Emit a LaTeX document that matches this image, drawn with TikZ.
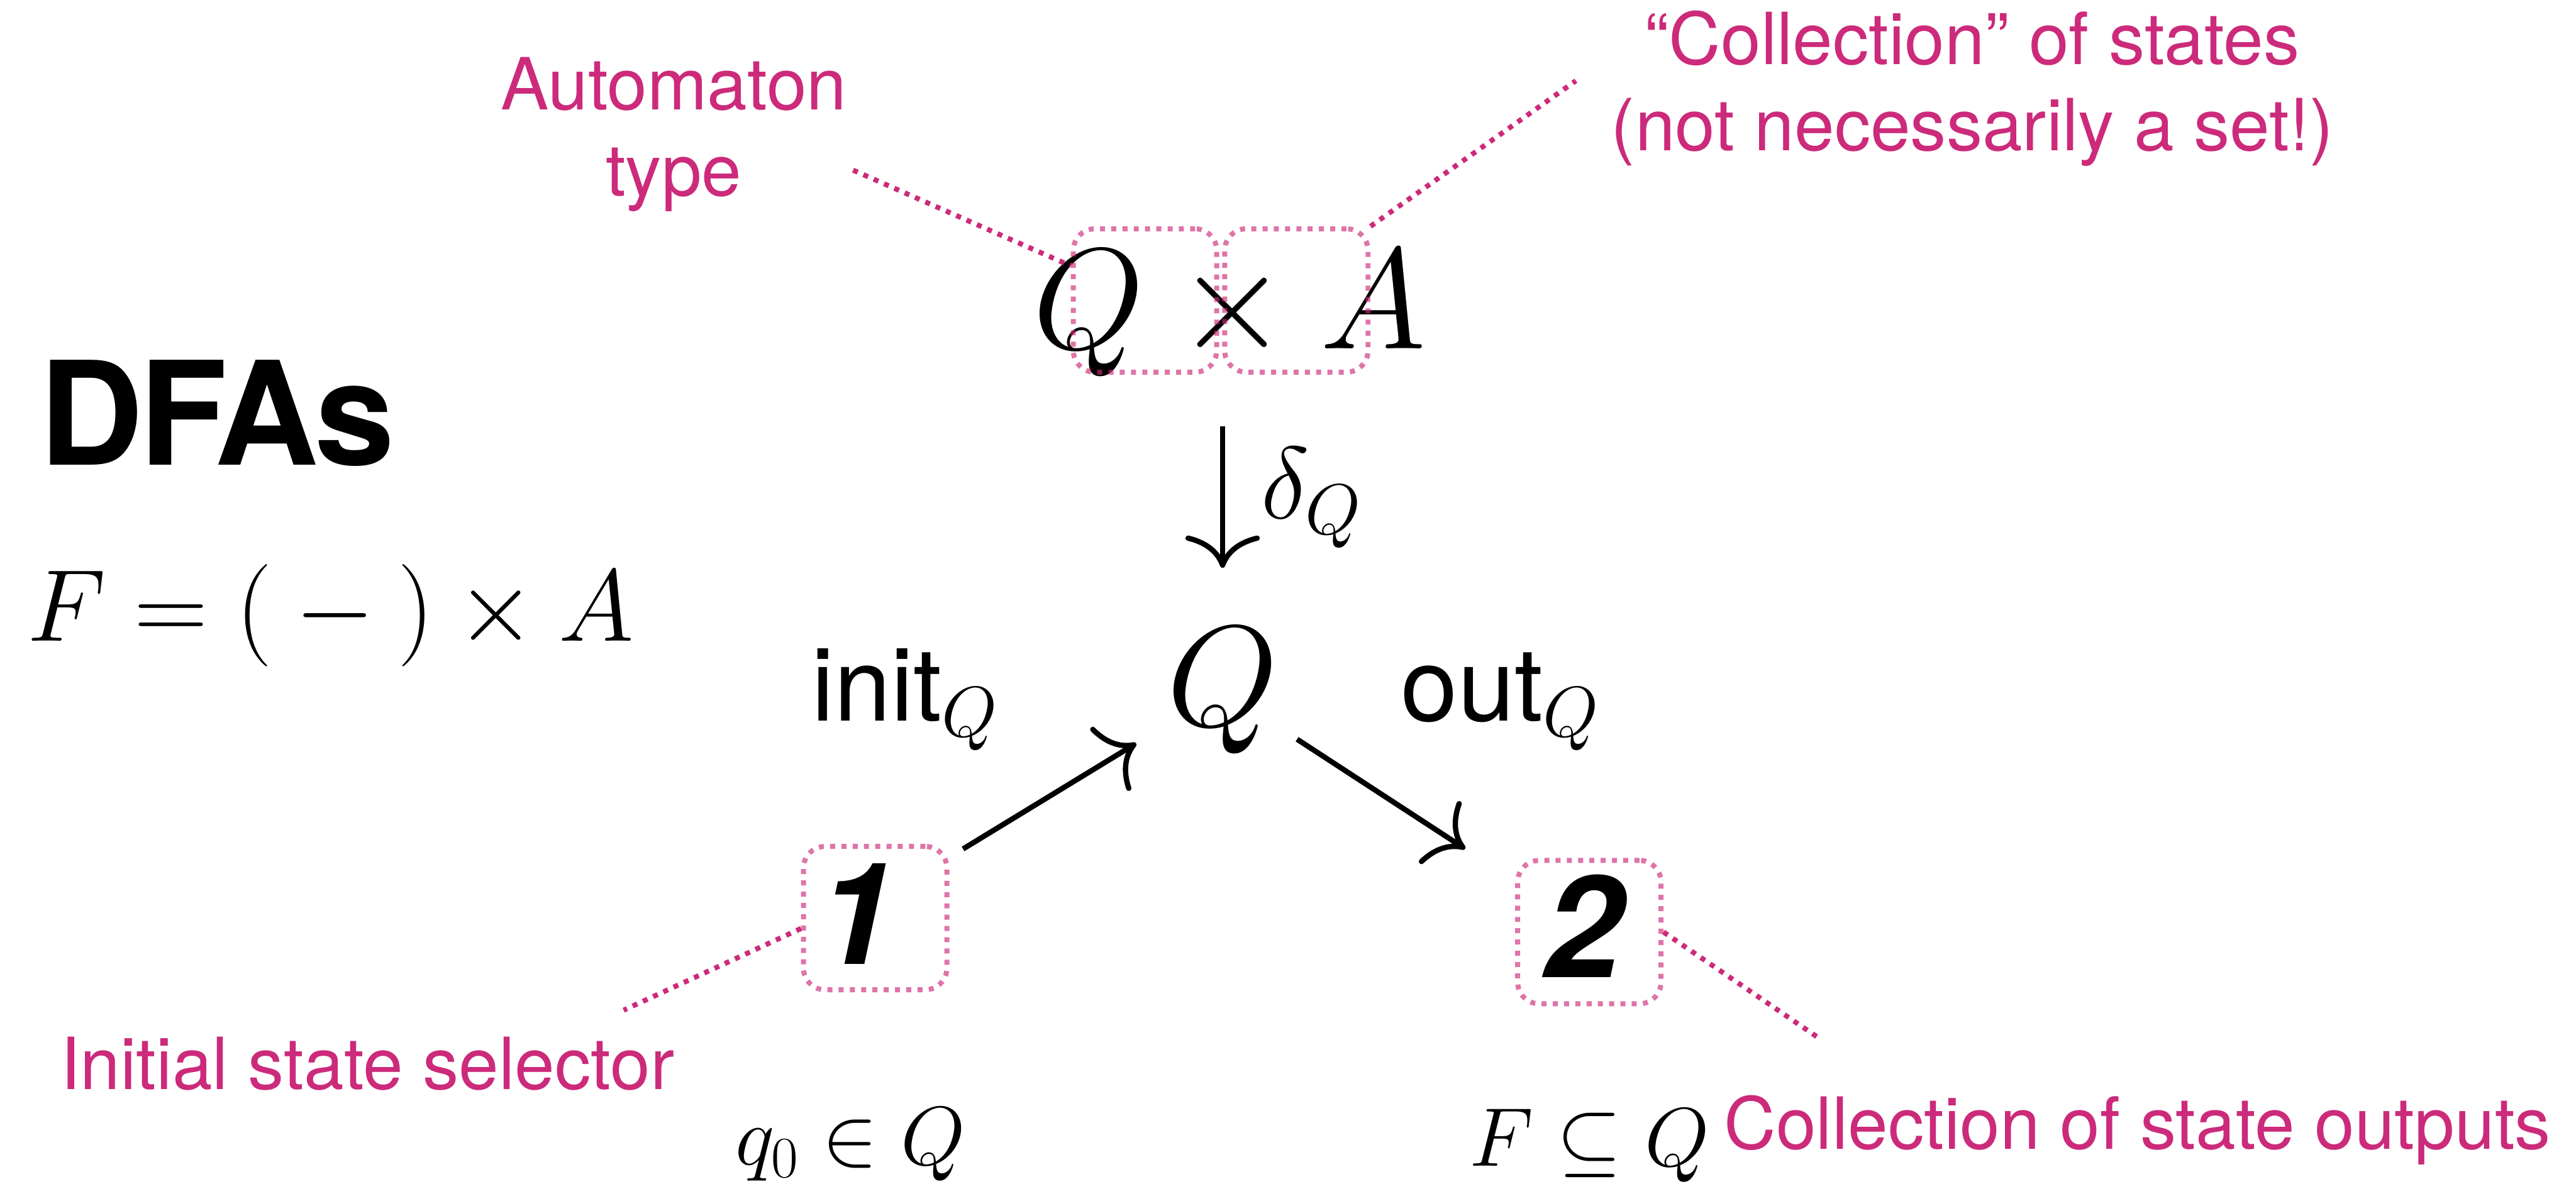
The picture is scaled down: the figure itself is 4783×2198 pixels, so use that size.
\RequirePackage{fix-cm}
\documentclass[tikz,border=0pt]{standalone}
\usepackage{amsmath}
\usepackage{fontspec}
\setsansfont{TeX Gyre Heros}
\usepackage{tikz}
\usetikzlibrary{arrows.meta, positioning, calc}
\definecolor{notepink}{RGB}{204,42,122}
\newcommand{\notefont}{\sffamily\fontsize{38}{45.5}\selectfont}
\newcommand{\bigmath}{\fontsize{76}{80}\selectfont}
\newcommand{\midmath}{\fontsize{54}{60}\selectfont}
\newcommand{\smallmath}{\fontsize{44}{50}\selectfont}
\newcommand{\digitfont}{\sffamily\bfseries\itshape\fontsize{75}{80}\selectfont}
\newcommand{\titlefont}{\sffamily\bfseries\fontsize{76}{80}\selectfont\addfontfeature{LetterSpace=-2.5}}

\begin{document}
\begin{tikzpicture}[
    x=0.01cm, y=-0.01cm,
    >={Computer Modern Rightarrow[length=0.6cm, width=1.38cm]},
    arr/.style={->, line width=2.8pt},
    note/.style={text=notepink, font=\notefont, align=center},
    dotbox/.style={draw=notepink, draw opacity=0.65, line width=2.65pt, dash pattern=on 2.65pt off 3.3pt, rounded corners=0.4cm, minimum width=2.66cm, minimum height=2.66cm, inner sep=0pt},
    leader/.style={notepink, line width=2.65pt, dash pattern=on 2.65pt off 3.3pt},
]
    \useasboundingbox (0,0) rectangle (4783,2198);

    % title and functor
    \node[anchor=base west, font=\titlefont] (title) at (60,863) {DFAs};
    \node[anchor=base west, font=\midmath] (functor) at (38,1191) {$F = (\:{-}\:)\times A$};

    % the coalgebra
    \node[anchor=base west, font=\bigmath] (qa) at (1905,648) {$Q \times A$};
    \node[anchor=base west, font=\bigmath] (q) at (2154,1348) {$Q$};
    \node[anchor=base, font=\digitfont] (one) at (1590,1791) {1};
    \node[anchor=base, font=\digitfont] (two) at (2940,1815) {2};

    \draw[arr, shorten <=2.09cm, shorten >=2.28cm] (q.center |- qa.center) -- (q.center);
    \node[anchor=base west, font=\midmath] (deltalbl) at (2329,963) {$\delta_Q$};
    \draw[arr, shorten <=2.32cm, shorten >=1.88cm] (one.center) -- (q.center);
    \node[anchor=base west, font=\midmath] (initlbl) at (1494,1339) {\textsf{init}$_Q$};
    \draw[arr, shorten <=1.65cm, shorten >=2.62cm] (q.center) -- (two.center);
    \node[anchor=base west, font=\midmath] (outlbl) at (2589,1339) {\textsf{out}$_Q$};

    \node[anchor=base, font=\smallmath] (qzero) at (1579,2163) {$q_0 \in Q$};
    \node[anchor=base, font=\smallmath] (fsub) at (2951,2166) {$F \subseteq Q$};

    % highlights
    \node[dotbox] (qbox) at (2126,558) {};
    \node[dotbox] (abox) at (2407,558) {};
    \node[dotbox] (onebox) at (1625,1705) {};
    \node[dotbox] (twobox) at (2951,1731) {};

    % notes
    \node[note] (autonote) at (1251,250) {Automaton\\type};
    \node[note] (collnote) at (3662,164) {“Collection” of states\\(not necessarily a set!)};
    \node[note, anchor=base] (initnote) at (682,2023) {Initial state selector};
    \node[note, anchor=base west] (outsnote) at (3189,2134) {Collection of state outputs};

    \coordinate (autoend) at (1584,316);
    \coordinate (collend) at (2926,150);
    \coordinate (initend) at (1158,1876);
    \coordinate (outsend) at (3373,1925);
    \draw[leader] (autoend) -- (qbox.155);
    \draw[leader] (abox.north east) -- (collend);
    \draw[leader] (onebox.188) -- (initend);
    \draw[leader] (twobox.east) -- (outsend);
\end{tikzpicture}
\end{document}
